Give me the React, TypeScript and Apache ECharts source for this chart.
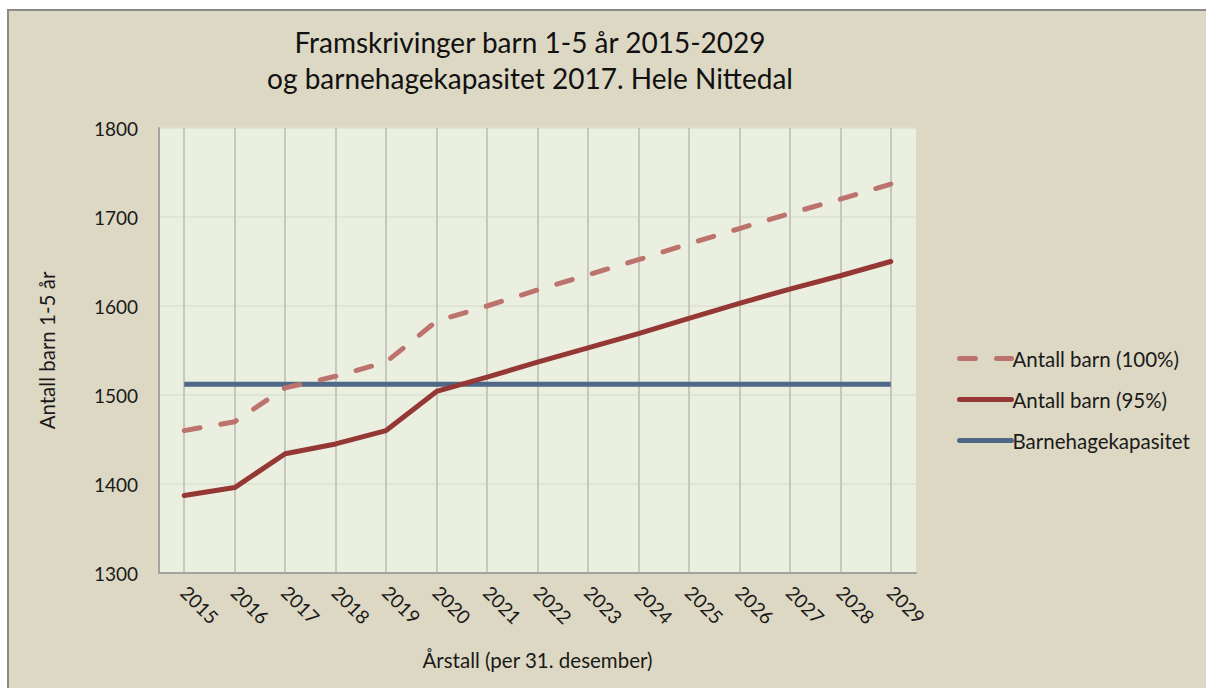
import React, { useEffect, useRef } from "react";
import * as echarts from "echarts";

const years = ["2015","2016","2017","2018","2019","2020","2021","2022","2023","2024","2025","2026","2027","2028","2029"];
const barn100 = [1460, 1470, 1508, 1521, 1537, 1583, 1600, 1618, 1635, 1652, 1670, 1687, 1704, 1720, 1737];
const barn95 = [1387, 1396, 1434, 1445, 1460, 1504, 1520, 1537, 1553, 1569, 1586, 1603, 1619, 1634, 1650];
const kapasitet = [1512, 1512, 1512, 1512, 1512, 1512, 1512, 1512, 1512, 1512, 1512, 1512, 1512, 1512, 1512];
const titleLines = ["Framskrivinger barn 1-5 år 2015-2029", "og barnehagekapasitet 2017. Hele Nittedal"];

const FONT = "Lato, 'Noto Sans', sans-serif";

export default function App() {
  const ref = useRef<HTMLDivElement>(null);
  useEffect(() => {
    if (!ref.current) return;
    const chart = echarts.init(ref.current, undefined, { renderer: "svg" });
    chart.setOption({
      animation: false,
      backgroundColor: "#ffffff",
      textStyle: { fontFamily: FONT, color: "#1a1a1a" },
      graphic: [
        {
          type: "rect",
          z: -10,
          silent: true,
          shape: { x: 8, y: 10, width: 1210, height: 700 },
          style: { fill: "#DDD8C3", stroke: "#8a8a8a", lineWidth: 2 },
        },
        {
          type: "text",
          x: 530,
          y: 42,
          style: { text: titleLines[0], fontSize: 28, fontFamily: FONT, fill: "#111", align: "center", verticalAlign: "middle" },
        },
        {
          type: "text",
          x: 530,
          y: 78,
          style: { text: titleLines[1], fontSize: 28, fontFamily: FONT, fill: "#111", align: "center", verticalAlign: "middle" },
        },
      ],
      grid: {
        left: 159,
        top: 128,
        right: 290,
        bottom: 115,
        show: true,
        backgroundColor: "#EBEFDF",
        borderWidth: 0,
        containLabel: false,
      },
      legend: {
        orient: "vertical",
        left: 952,
        top: 343,
        itemWidth: 52,
        itemHeight: 14,
        itemGap: 20,
        itemStyle: { opacity: 0, borderWidth: 0 },
        lineStyle: { width: 5, cap: "round" },
        textStyle: { fontSize: 20.5, lineHeight: 20, fontFamily: FONT, color: "#1a1a1a", padding: [0, 0, 0, -4] },
        data: ["Antall barn (100%)", "Antall barn (95%)", "Barnehagekapasitet"],
      },
      xAxis: {
        type: "category",
        data: years,
        boundaryGap: true,
        name: "Årstall (per 31. desember)",
        nameLocation: "middle",
        nameGap: 76,
        nameTextStyle: { fontSize: 20.5, fontFamily: FONT, color: "#1a1a1a" },
        axisLine: { show: true, lineStyle: { color: "#A3A3A0", width: 2 } },
        axisTick: { show: false, alignWithLabel: true },
        axisLabel: { rotate: -45, fontSize: 19, fontFamily: FONT, color: "#1a1a1a", margin: 16 },
        splitLine: { show: true, alignWithLabel: true, lineStyle: { color: "#C6C8BE", width: 2 } },
      },
      yAxis: {
        type: "value",
        min: 1300,
        max: 1800,
        interval: 100,
        name: "Antall barn 1-5 år",
        nameLocation: "middle",
        nameGap: 102,
        nameTextStyle: { fontSize: 20.5, fontFamily: FONT, color: "#1a1a1a" },
        axisLine: { show: true, lineStyle: { color: "#A3A3A0", width: 2 } },
        axisTick: { show: false },
        axisLabel: { fontSize: 19, fontFamily: FONT, color: "#1a1a1a", margin: 21, formatter: (v: number) => String(v) },
        splitLine: { show: true, lineStyle: { color: "#DDE0D0", width: 1.5 } },
      },
      series: [
        {
          name: "Antall barn (100%)",
          type: "line",
          data: barn100,
          symbol: "none",
          color: "#BD736D",
          lineStyle: { color: "#BD736D", width: 5, type: [16, 21], cap: "round" },
          z: 3,
        },
        {
          name: "Antall barn (95%)",
          type: "line",
          data: barn95,
          symbol: "none",
          color: "#953735",
          lineStyle: { color: "#953735", width: 5, cap: "round" },
          z: 4,
        },
        {
          name: "Barnehagekapasitet",
          type: "line",
          data: kapasitet,
          symbol: "none",
          color: "#4F6887",
          lineStyle: { color: "#4F6887", width: 5 },
          z: 2,
        },
      ],
    });
    return () => chart.dispose();
  }, []);
  return (
    <div
      ref={ref}
      style={{ position: "absolute", left: 0, top: 0, width: 1206, height: 688 }}
    />
  );
}
